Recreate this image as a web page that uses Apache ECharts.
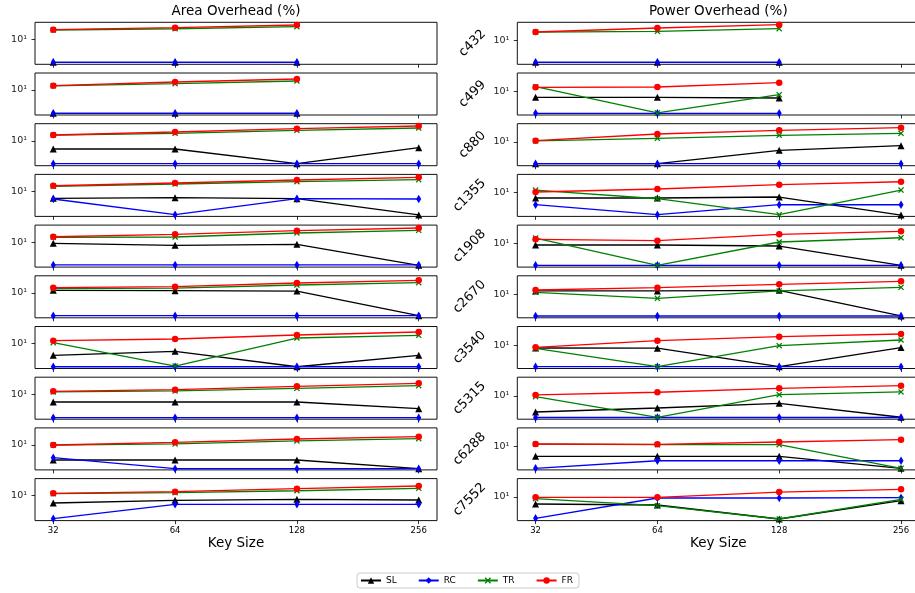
<!DOCTYPE html>
<html><head><meta charset="utf-8">
<script src="https://cdn.jsdelivr.net/npm/echarts@6/dist/echarts.min.js"></script>
<style>html,body{margin:0;padding:0;background:#fff}#c{width:915px;height:593px}</style>
</head><body><div id="c"></div>
<script>
const keySizes = [32, 64, 128, 256];
const circuits = ['c432','c499','c880','c1355','c1908','c2670','c3540','c5315','c6288','c7552'];
const methods = ['SL','RC','TR','FR'];
const columnTitles = ['Area Overhead (%)', 'Power Overhead (%)'];
const xAxisTitle = 'Key Size';
const yTickValues = [10];
const yTickLabels = ['10\u00b9'];

const areaSL = [
 [1.2,1.2,1.2],
 [1.17,1.17,1.17],
 [4.79,4.79,1.24,5.40],
 [5.25,5.55,5.06,1.13],
 [9.12,7.59,8.32,1.20],
 [12.8,12.4,12.0,1.24],
 [3.44,4.97,1.20,3.44],
 [4.92,4.92,4.92,2.65],
 [2.51,2.51,2.51,1.13],
 [5.11,6.55,7.18,6.73]
];
const areaRC = [
 [1.2,1.2,1.2],
 [1.17,1.17,1.17],
 [1.24,1.24,1.24,1.24],
 [4.92,1.16,5.06,4.92],
 [1.25,1.25,1.25,1.25],
 [1.24,1.24,1.24,1.24],
 [1.20,1.20,1.20,1.20],
 [1.16,1.16,1.16,1.16],
 [3.10,1.13,1.13,1.13],
 [1.20,4.53,4.53,4.53]
];
const areaTR = [
 [23.6,26.5,31.9],
 [14.7,17.9,22.9],
 [17.2,20.3,26.8,33.1],
 [15.8,19.6,24.2,29.1],
 [15.8,16.3,23.6,30.2],
 [14.9,15.8,20.9,25.8],
 [11.0,1.28,16.9,21.7],
 [12.4,13.6,17.4,22.1],
 [9.9,11.0,14.5,17.9],
 [12.0,13.2,15.8,19.8]
];
const areaFR = [
 [24.2,29.1,37.3],
 [14.9,20.9,27.5],
 [17.4,22.9,31.0,39.8],
 [16.7,21.5,28.3,36.3],
 [16.7,20.9,29.1,37.3],
 [16.3,17.9,25.1,32.2],
 [13.2,15.4,22.3,29.4],
 [13.2,15.3,20.9,27.5],
 [10.0,12.8,17.4,21.5],
 [12.5,14.5,19.1,24.4]
];
const areaYMin = [1.0,1.0,1.03,0.99,1.02,1.02,1.02,1.01,1.01,1.01];
const areaYMax = [47.9,47.9,49.2,47.4,48.8,48.8,48.8,48.3,48.3,48.3];

const powerSL = [
 [1.37,1.37,1.37],
 [5.97,5.97,5.60],
 [1.36,1.36,4.66,7.11],
 [6.14,6.14,6.73,1.28],
 [8.55,8.55,7.80,1.32],
 [13.6,13.6,14.5,1.36],
 [7.80,7.70,1.39,8.10],
 [2.29,3.31,5.11,1.41],
 [3.98,3.98,3.98,1.32],
 [5.25,4.79,1.32,7.11]
];
const powerRC = [
 [1.37,1.37,1.37],
 [1.37,1.37,1.37],
 [1.36,1.36,1.36,1.36],
 [3.31,1.32,3.31,3.31],
 [1.32,1.32,1.32,1.32],
 [1.36,1.36,1.36,1.36],
 [1.39,1.39,1.39,1.39],
 [1.38,1.38,1.38,1.38],
 [1.32,2.65,2.65,2.65],
 [1.41,9.12,9.12,9.40]
];
const powerTR = [
 [22.1,23.8,30.2],
 [15.8,1.41,7.59],
 [11.2,14.1,18.5,22.3],
 [12.8,5.75,1.32,12.8],
 [16.3,1.32,11.3,16.7],
 [12.0,6.92,13.6,19.1],
 [7.59,1.39,9.64,16.3],
 [9.38,1.41,11.3,14.5],
 [12.2,11.6,11.6,1.32],
 [8.55,4.49,1.32,8.09]
];
const powerFR = [
 [22.3,32.2,43.7],
 [15.0,15.4,22.9],
 [11.3,20.9,29.4,37.3],
 [10.7,14.1,20.9,27.5],
 [14.5,12.7,22.9,30.2],
 [14.9,18.4,25.1,33.1],
 [8.32,15.3,22.1,28.3],
 [11.0,14.1,20.3,25.8],
 [12.4,12.0,14.9,18.4],
 [9.73,9.73,15.8,20.3]
];
const powerYMin = [1.14,1.17,1.13,1.13,1.12,1.15,1.18,1.18,1.14,1.14];
const powerYMax = [54.5,56.0,54.0,54.0,53.5,55.0,56.5,56.5,54.5,54.5];

// ---------- layout / style ----------
const FONT = 'DejaVu Sans';
const ROW_TOP0 = 22.3, ROW_PITCH = 50.7, ROW_H = 42;
const COL_LEFT = [35, 517.3], COL_W = 402;
const X_PAD = Math.pow(2, 0.15);
const XPATH = 'path://M0,1.5L1.5,0L5,3.5L8.5,0L10,1.5L6.5,5L10,8.5L8.5,10L5,6.5L1.5,10L0,8.5L3.5,5Z';
const styleOf = {
  SL: {color:'#000000', symbol:'triangle', size:7},
  RC: {color:'#0000ff', symbol:'diamond', size:[5,8.5]},
  TR: {color:'#008000', symbol:XPATH, size:6},
  FR: {color:'#ff0000', symbol:'circle', size:6.5}
};
const columns = [
  {SL:areaSL, RC:areaRC, TR:areaTR, FR:areaFR, ymin:areaYMin, ymax:areaYMax},
  {SL:powerSL, RC:powerRC, TR:powerTR, FR:powerFR, ymin:powerYMin, ymax:powerYMax}
];

const grids = [], xAxes = [], yAxes = [], series = [];
let p = 0;
for (let c = 0; c < 2; c++) {
  for (let r = 0; r < circuits.length; r++) {
    const col = columns[c];
    grids.push({left: COL_LEFT[c], top: ROW_TOP0 + ROW_PITCH * r, width: COL_W, height: ROW_H,
      show: true, borderColor: '#111', borderWidth: 1, backgroundColor: 'transparent',
      containLabel: false, outerBoundsMode: 'none'});
    const last = r === circuits.length - 1;
    xAxes.push({type:'log', logBase:2, gridIndex:p,
      min: keySizes[0] / X_PAD, max: keySizes[keySizes.length-1] * X_PAD,
      axisLine:{show:false}, splitLine:{show:false}, minorTick:{show:false},
      axisTick:{show:true, customValues:keySizes, length:3.5, lineStyle:{color:'#000', width:0.8}},
      axisLabel:{show:last, customValues:keySizes, fontSize:8.5, color:'#000', margin:6, fontFamily:FONT,
        formatter: v => String(Math.round(v))},
      name: last ? xAxisTitle : '', nameLocation:'middle', nameGap:17,
      nameTextStyle:{fontSize:13.5, color:'#000', fontFamily:FONT, verticalAlign:'middle'}
    });
    yAxes.push({type:'log', logBase:10, gridIndex:p, min: col.ymin[r], max: col.ymax[r],
      axisLine:{show:false}, splitLine:{show:false}, minorTick:{show:false},
      axisTick:{show:true, customValues:yTickValues, length:3.5, lineStyle:{color:'#000', width:0.8}},
      axisLabel:{customValues:yTickValues, fontSize:9.5, color:'#222', margin:8, fontFamily:FONT,
        formatter: v => { const i = yTickValues.findIndex(t => Math.abs(t - v) < 1e-6 * t); return i >= 0 ? yTickLabels[i] : ''; }},
      name: c === 1 ? circuits[r] : '', nameLocation:'middle', nameRotate:45, nameGap:40,
      nameTextStyle:{fontSize:13, color:'#000', fontFamily:FONT, align:'center', verticalAlign:'middle'}
    });
    methods.forEach(m => {
      const vals = col[m][r];
      const st = styleOf[m];
      series.push({name:m, type:'line', xAxisIndex:p, yAxisIndex:p,
        data: vals.map((v, i) => [keySizes[i], v]),
        symbol: st.symbol, symbolSize: st.size, showSymbol:true, clip:false,
        lineStyle:{color:st.color, width:1.3},
        itemStyle:{color:st.color, borderWidth:0},
        emphasis:{disabled:true}, silent:true, animation:false});
    });
    p++;
  }
}

const chart = echarts.init(document.getElementById('c'), null, {renderer:'canvas'});
chart.setOption({
  animation:false,
  backgroundColor:'#ffffff',
  textStyle:{fontFamily:FONT},
  title: columnTitles.map((t, c) => ({text:t, left: COL_LEFT[c] + COL_W/2, top:4, textAlign:'center', padding:0,
    textStyle:{fontSize:13.5, fontWeight:'normal', color:'#000', fontFamily:FONT}})),
  legend:{data:methods, left:357, top:573, orient:'horizontal', itemWidth:20, itemHeight:8, itemGap:21,
    padding:[3,6,3,3], borderColor:'#cccccc', borderWidth:1, borderRadius:3, backgroundColor:'#fff',
    textStyle:{fontSize:9, color:'#000', fontFamily:FONT}},
  grid: grids, xAxis: xAxes, yAxis: yAxes, series: series
});
</script></body></html>
